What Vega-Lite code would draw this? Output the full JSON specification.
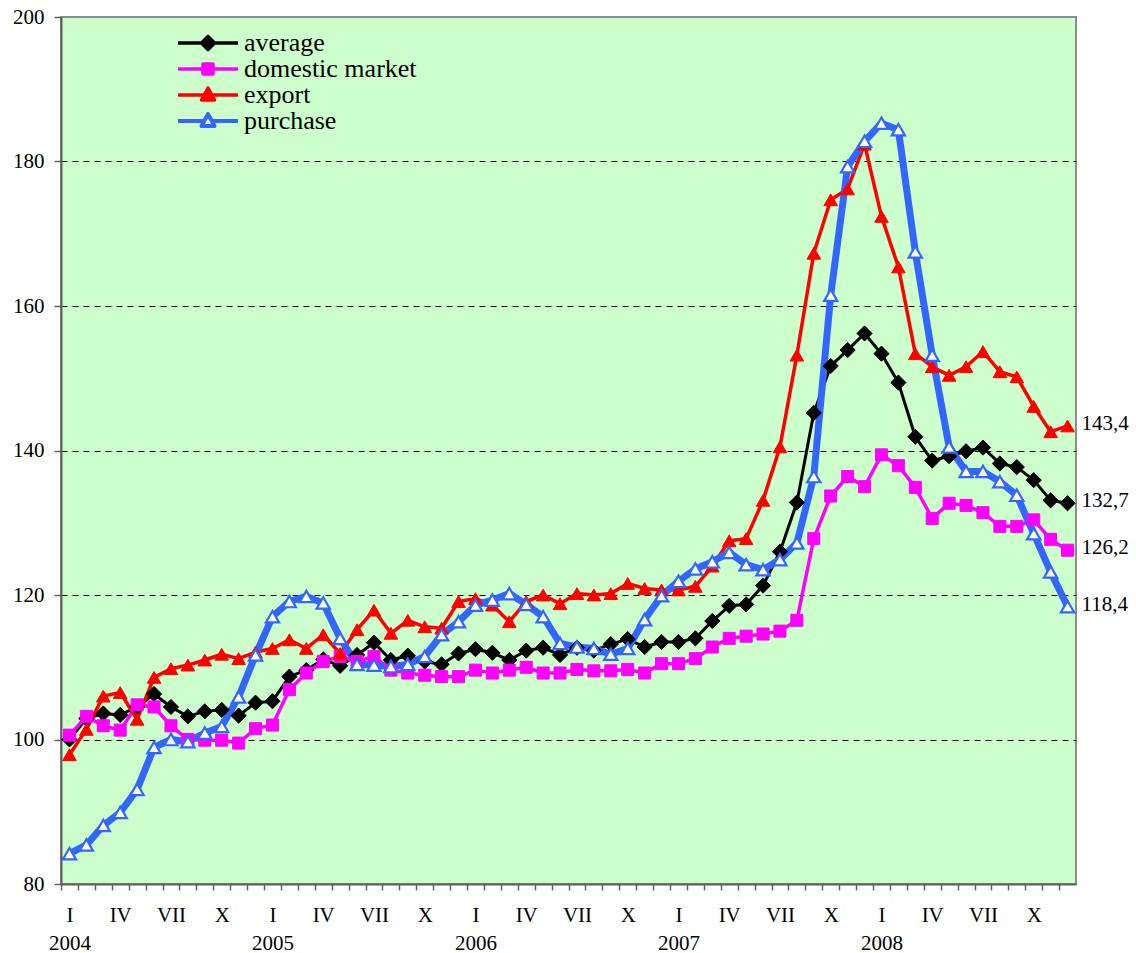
{
  "$schema": "https://vega.github.io/schema/vega-lite/v6.json",
  "autosize": {"type": "none"},
  "padding": {"left": 61, "top": 17, "right": 60, "bottom": 69},
  "width": 1015,
  "height": 867,
  "background": "white",
  "config": {
    "font": "Liberation Serif",
    "view": {"fill": "#CCFFCC", "stroke": "#8c8c8c", "strokeWidth": 2},
    "locale": {"number": {"decimal": ",", "thousands": " ", "grouping": [3], "currency": ["", ""]}},
    "axis": {"labelFont": "Liberation Serif", "labelFontSize": 21, "labelColor": "black", "domainColor": "#606060", "domainWidth": 2, "tickColor": "#606060", "tickWidth": 1.5, "title": null}
  },
  "data": {"values": [
    {"month":"2004-01","series":"average","value":100.0},{"month":"2004-02","series":"average","value":102.9},{"month":"2004-03","series":"average","value":103.6},{"month":"2004-04","series":"average","value":103.4},{"month":"2004-05","series":"average","value":104.5},{"month":"2004-06","series":"average","value":106.3},{"month":"2004-07","series":"average","value":104.5},{"month":"2004-08","series":"average","value":103.2},{"month":"2004-09","series":"average","value":103.9},{"month":"2004-10","series":"average","value":104.1},{"month":"2004-11","series":"average","value":103.3},{"month":"2004-12","series":"average","value":105.1},
    {"month":"2005-01","series":"average","value":105.3},{"month":"2005-02","series":"average","value":108.7},{"month":"2005-03","series":"average","value":109.6},{"month":"2005-04","series":"average","value":111.1},{"month":"2005-05","series":"average","value":110.2},{"month":"2005-06","series":"average","value":111.7},{"month":"2005-07","series":"average","value":113.4},{"month":"2005-08","series":"average","value":111.0},{"month":"2005-09","series":"average","value":111.6},{"month":"2005-10","series":"average","value":110.8},{"month":"2005-11","series":"average","value":110.4},{"month":"2005-12","series":"average","value":111.9},
    {"month":"2006-01","series":"average","value":112.5},{"month":"2006-02","series":"average","value":112.0},{"month":"2006-03","series":"average","value":111.0},{"month":"2006-04","series":"average","value":112.3},{"month":"2006-05","series":"average","value":112.7},{"month":"2006-06","series":"average","value":111.7},{"month":"2006-07","series":"average","value":112.7},{"month":"2006-08","series":"average","value":112.3},{"month":"2006-09","series":"average","value":113.2},{"month":"2006-10","series":"average","value":113.9},{"month":"2006-11","series":"average","value":112.8},{"month":"2006-12","series":"average","value":113.5},
    {"month":"2007-01","series":"average","value":113.5},{"month":"2007-02","series":"average","value":114.0},{"month":"2007-03","series":"average","value":116.4},{"month":"2007-04","series":"average","value":118.5},{"month":"2007-05","series":"average","value":118.7},{"month":"2007-06","series":"average","value":121.3},{"month":"2007-07","series":"average","value":126.0},{"month":"2007-08","series":"average","value":132.8},{"month":"2007-09","series":"average","value":145.2},{"month":"2007-10","series":"average","value":151.7},{"month":"2007-11","series":"average","value":153.9},{"month":"2007-12","series":"average","value":156.2},
    {"month":"2008-01","series":"average","value":153.4},{"month":"2008-02","series":"average","value":149.4},{"month":"2008-03","series":"average","value":141.9},{"month":"2008-04","series":"average","value":138.6},{"month":"2008-05","series":"average","value":139.2},{"month":"2008-06","series":"average","value":139.9},{"month":"2008-07","series":"average","value":140.4},{"month":"2008-08","series":"average","value":138.2},{"month":"2008-09","series":"average","value":137.7},{"month":"2008-10","series":"average","value":135.9},{"month":"2008-11","series":"average","value":133.1},{"month":"2008-12","series":"average","value":132.7},
    {"month":"2004-01","series":"domestic market","value":100.6},{"month":"2004-02","series":"domestic market","value":103.2},{"month":"2004-03","series":"domestic market","value":101.9},{"month":"2004-04","series":"domestic market","value":101.3},{"month":"2004-05","series":"domestic market","value":104.8},{"month":"2004-06","series":"domestic market","value":104.5},{"month":"2004-07","series":"domestic market","value":101.9},{"month":"2004-08","series":"domestic market","value":100.0},{"month":"2004-09","series":"domestic market","value":99.9},{"month":"2004-10","series":"domestic market","value":99.9},{"month":"2004-11","series":"domestic market","value":99.5},{"month":"2004-12","series":"domestic market","value":101.5},
    {"month":"2005-01","series":"domestic market","value":102.0},{"month":"2005-02","series":"domestic market","value":106.9},{"month":"2005-03","series":"domestic market","value":109.2},{"month":"2005-04","series":"domestic market","value":110.8},{"month":"2005-05","series":"domestic market","value":111.5},{"month":"2005-06","series":"domestic market","value":110.8},{"month":"2005-07","series":"domestic market","value":111.5},{"month":"2005-08","series":"domestic market","value":109.6},{"month":"2005-09","series":"domestic market","value":109.2},{"month":"2005-10","series":"domestic market","value":108.9},{"month":"2005-11","series":"domestic market","value":108.7},{"month":"2005-12","series":"domestic market","value":108.7},
    {"month":"2006-01","series":"domestic market","value":109.6},{"month":"2006-02","series":"domestic market","value":109.2},{"month":"2006-03","series":"domestic market","value":109.6},{"month":"2006-04","series":"domestic market","value":110.0},{"month":"2006-05","series":"domestic market","value":109.2},{"month":"2006-06","series":"domestic market","value":109.2},{"month":"2006-07","series":"domestic market","value":109.7},{"month":"2006-08","series":"domestic market","value":109.5},{"month":"2006-09","series":"domestic market","value":109.5},{"month":"2006-10","series":"domestic market","value":109.7},{"month":"2006-11","series":"domestic market","value":109.2},{"month":"2006-12","series":"domestic market","value":110.5},
    {"month":"2007-01","series":"domestic market","value":110.5},{"month":"2007-02","series":"domestic market","value":111.2},{"month":"2007-03","series":"domestic market","value":112.8},{"month":"2007-04","series":"domestic market","value":114.0},{"month":"2007-05","series":"domestic market","value":114.3},{"month":"2007-06","series":"domestic market","value":114.6},{"month":"2007-07","series":"domestic market","value":115.0},{"month":"2007-08","series":"domestic market","value":116.5},{"month":"2007-09","series":"domestic market","value":127.8},{"month":"2007-10","series":"domestic market","value":133.7},{"month":"2007-11","series":"domestic market","value":136.4},{"month":"2007-12","series":"domestic market","value":135.0},
    {"month":"2008-01","series":"domestic market","value":139.4},{"month":"2008-02","series":"domestic market","value":137.9},{"month":"2008-03","series":"domestic market","value":134.9},{"month":"2008-04","series":"domestic market","value":130.6},{"month":"2008-05","series":"domestic market","value":132.7},{"month":"2008-06","series":"domestic market","value":132.4},{"month":"2008-07","series":"domestic market","value":131.4},{"month":"2008-08","series":"domestic market","value":129.5},{"month":"2008-09","series":"domestic market","value":129.5},{"month":"2008-10","series":"domestic market","value":130.4},{"month":"2008-11","series":"domestic market","value":127.7},{"month":"2008-12","series":"domestic market","value":126.2},
    {"month":"2004-01","series":"export","value":97.9},{"month":"2004-02","series":"export","value":101.4},{"month":"2004-03","series":"export","value":106.0},{"month":"2004-04","series":"export","value":106.5},{"month":"2004-05","series":"export","value":102.8},{"month":"2004-06","series":"export","value":108.6},{"month":"2004-07","series":"export","value":109.8},{"month":"2004-08","series":"export","value":110.3},{"month":"2004-09","series":"export","value":111.0},{"month":"2004-10","series":"export","value":111.8},{"month":"2004-11","series":"export","value":111.2},{"month":"2004-12","series":"export","value":112.1},
    {"month":"2005-01","series":"export","value":112.6},{"month":"2005-02","series":"export","value":113.8},{"month":"2005-03","series":"export","value":112.6},{"month":"2005-04","series":"export","value":114.5},{"month":"2005-05","series":"export","value":111.9},{"month":"2005-06","series":"export","value":115.2},{"month":"2005-07","series":"export","value":117.9},{"month":"2005-08","series":"export","value":114.7},{"month":"2005-09","series":"export","value":116.5},{"month":"2005-10","series":"export","value":115.6},{"month":"2005-11","series":"export","value":115.4},{"month":"2005-12","series":"export","value":119.1},
    {"month":"2006-01","series":"export","value":119.5},{"month":"2006-02","series":"export","value":118.6},{"month":"2006-03","series":"export","value":116.3},{"month":"2006-04","series":"export","value":119.1},{"month":"2006-05","series":"export","value":120.0},{"month":"2006-06","series":"export","value":118.8},{"month":"2006-07","series":"export","value":120.2},{"month":"2006-08","series":"export","value":120.0},{"month":"2006-09","series":"export","value":120.2},{"month":"2006-10","series":"export","value":121.6},{"month":"2006-11","series":"export","value":120.9},{"month":"2006-12","series":"export","value":120.7},
    {"month":"2007-01","series":"export","value":120.7},{"month":"2007-02","series":"export","value":121.2},{"month":"2007-03","series":"export","value":124.0},{"month":"2007-04","series":"export","value":127.5},{"month":"2007-05","series":"export","value":127.8},{"month":"2007-06","series":"export","value":133.1},{"month":"2007-07","series":"export","value":140.5},{"month":"2007-08","series":"export","value":153.2},{"month":"2007-09","series":"export","value":167.3},{"month":"2007-10","series":"export","value":174.7},{"month":"2007-11","series":"export","value":176.2},{"month":"2007-12","series":"export","value":182.4},
    {"month":"2008-01","series":"export","value":172.4},{"month":"2008-02","series":"export","value":165.4},{"month":"2008-03","series":"export","value":153.4},{"month":"2008-04","series":"export","value":151.6},{"month":"2008-05","series":"export","value":150.4},{"month":"2008-06","series":"export","value":151.6},{"month":"2008-07","series":"export","value":153.7},{"month":"2008-08","series":"export","value":150.9},{"month":"2008-09","series":"export","value":150.2},{"month":"2008-10","series":"export","value":146.1},{"month":"2008-11","series":"export","value":142.6},{"month":"2008-12","series":"export","value":143.4},
    {"month":"2004-01","series":"purchase","value":84.2},{"month":"2004-02","series":"purchase","value":85.4},{"month":"2004-03","series":"purchase","value":88.1},{"month":"2004-04","series":"purchase","value":89.9},{"month":"2004-05","series":"purchase","value":93.1},{"month":"2004-06","series":"purchase","value":98.9},{"month":"2004-07","series":"purchase","value":100.0},{"month":"2004-08","series":"purchase","value":99.7},{"month":"2004-09","series":"purchase","value":100.9},{"month":"2004-10","series":"purchase","value":101.8},{"month":"2004-11","series":"purchase","value":105.9},{"month":"2004-12","series":"purchase","value":111.7},
    {"month":"2005-01","series":"purchase","value":117.0},{"month":"2005-02","series":"purchase","value":119.1},{"month":"2005-03","series":"purchase","value":119.8},{"month":"2005-04","series":"purchase","value":118.9},{"month":"2005-05","series":"purchase","value":114.0},{"month":"2005-06","series":"purchase","value":110.4},{"month":"2005-07","series":"purchase","value":110.3},{"month":"2005-08","series":"purchase","value":110.1},{"month":"2005-09","series":"purchase","value":110.4},{"month":"2005-10","series":"purchase","value":111.5},{"month":"2005-11","series":"purchase","value":114.5},{"month":"2005-12","series":"purchase","value":116.3},
    {"month":"2006-01","series":"purchase","value":118.6},{"month":"2006-02","series":"purchase","value":119.3},{"month":"2006-03","series":"purchase","value":120.2},{"month":"2006-04","series":"purchase","value":118.7},{"month":"2006-05","series":"purchase","value":117.0},{"month":"2006-06","series":"purchase","value":113.3},{"month":"2006-07","series":"purchase","value":112.8},{"month":"2006-08","series":"purchase","value":112.6},{"month":"2006-09","series":"purchase","value":111.8},{"month":"2006-10","series":"purchase","value":112.6},{"month":"2006-11","series":"purchase","value":116.6},{"month":"2006-12","series":"purchase","value":119.9},
    {"month":"2007-01","series":"purchase","value":121.9},{"month":"2007-02","series":"purchase","value":123.6},{"month":"2007-03","series":"purchase","value":124.6},{"month":"2007-04","series":"purchase","value":125.9},{"month":"2007-05","series":"purchase","value":124.2},{"month":"2007-06","series":"purchase","value":123.5},{"month":"2007-07","series":"purchase","value":124.9},{"month":"2007-08","series":"purchase","value":127.2},{"month":"2007-09","series":"purchase","value":136.4},{"month":"2007-10","series":"purchase","value":161.5},{"month":"2007-11","series":"purchase","value":179.3},{"month":"2007-12","series":"purchase","value":182.8},
    {"month":"2008-01","series":"purchase","value":185.3},{"month":"2008-02","series":"purchase","value":184.4},{"month":"2008-03","series":"purchase","value":167.5},{"month":"2008-04","series":"purchase","value":153.2},{"month":"2008-05","series":"purchase","value":140.5},{"month":"2008-06","series":"purchase","value":137.1},{"month":"2008-07","series":"purchase","value":137.1},{"month":"2008-08","series":"purchase","value":135.7},{"month":"2008-09","series":"purchase","value":133.8},{"month":"2008-10","series":"purchase","value":128.5},{"month":"2008-11","series":"purchase","value":123.2},{"month":"2008-12","series":"purchase","value":118.4}
  ]},
  "encoding": {
    "x": {
      "field": "month", "type": "ordinal",
      "scale": {"type": "band", "paddingInner": 0, "paddingOuter": 0},
      "axis": {
        "tickSize": 6, "tickOffset": -8.458, "labelOffset": 8.458, "labelAngle": 0, "labelOverlap": false,
        "labelPadding": 14, "labelBaseline": "top", "labelAlign": "center", "labelLineHeight": 28,
        "labelExpr": "!datum.label ? '' : slice(datum.label,5)==='01' ? ['I', slice(datum.label,0,4)] : slice(datum.label,5)==='04' ? 'IV' : slice(datum.label,5)==='07' ? 'VII' : slice(datum.label,5)==='10' ? 'X' : ''"
      }
    },
    "y": {
      "field": "value", "type": "quantitative",
      "scale": {"domain": [80, 200], "nice": false, "zero": false},
      "axis": {
        "values": [80, 100, 120, 140, 160, 180, 200], "tickSize": 7, "labelPadding": 10,
        "grid": true, "gridColor": "black", "gridDash": [6, 5], "gridWidth": 1,
        "gridOpacity": {"condition": {"test": "datum.value === 80 || datum.value === 200", "value": 0}, "value": 1}
      }
    }
  },
  "layer": [
    {
      "transform": [{"filter": {"field": "series", "equal": "average"}}],
      "mark": {"type": "line", "strokeWidth": 3, "strokeJoin": "round"},
      "encoding": {
        "color": {"field": "series", "type": "nominal",
          "scale": {"domain": ["average", "domestic market", "export", "purchase"], "range": ["#000000", "#FF00FF", "#FF0000", "#3366FF"]},
          "legend": {
            "title": null, "orient": "top-left", "offset": 13, "padding": 0,
            "symbolSize": 400, "symbolOffset": 121, "labelOffset": 23, "symbolStrokeWidth": 3.5,
            "labelFontSize": 26, "labelFont": "Liberation Serif", "labelColor": "black", "labelLimit": 400,
            "rowPadding": 0, "symbolOpacity": 1,
            "encode": {"symbols": {"update": {
              "shape": {"signal": "datum.value === 'average' ? 'M-3,0H-0.6M0.6,0H3M0,-0.65L0.65,0L0,0.65L-0.65,0Z' : datum.value === 'domestic market' ? 'M-3,0H-0.5M0.5,0H3M-0.5,-0.5H0.5V0.5H-0.5Z' : datum.value === 'export' ? 'M-3,0H-0.4M0.4,0H3M0,-0.7L0.65,0.5H-0.65Z' : 'M-3,0H-0.4M0.4,0H3M0,-0.7L0.65,0.5H-0.65Z'"},
              "fill": {"signal": "datum.value === 'purchase' ? '#FFFFFF' : datum.value === 'average' ? '#000000' : datum.value === 'export' ? '#FF0000' : '#FF00FF'"},
              "strokeWidth": {"signal": "datum.value === 'purchase' ? 4 : 3.5"},
              "strokeJoin": {"value": "round"}
            }}}
          }
        }
      }
    },
    {
      "transform": [{"filter": {"field": "series", "equal": "domestic market"}}],
      "mark": {"type": "line", "color": "#FF00FF", "strokeWidth": 3.5, "strokeJoin": "round"},
      "encoding": {}
    },
    {
      "transform": [{"filter": {"field": "series", "equal": "export"}}],
      "mark": {"type": "line", "color": "#FF0000", "strokeWidth": 3.5, "strokeJoin": "round"},
      "encoding": {}
    },
    {
      "transform": [{"filter": {"field": "series", "equal": "purchase"}}],
      "mark": {"type": "line", "color": "#3366FF", "strokeWidth": 7, "strokeJoin": "round"},
      "encoding": {}
    },
    {
      "transform": [{"filter": {"field": "series", "equal": "average"}}],
      "mark": {"type": "point", "shape": "diamond", "filled": true, "fill": "#000000", "stroke": "#000000", "strokeWidth": 1, "size": 230, "opacity": 1},
      "encoding": {}
    },
    {
      "transform": [{"filter": {"field": "series", "equal": "domestic market"}}],
      "mark": {"type": "point", "shape": "square", "filled": true, "fill": "#FF00FF", "stroke": "#FF00FF", "strokeWidth": 1, "size": 145, "opacity": 1},
      "encoding": {}
    },
    {
      "transform": [{"filter": {"field": "series", "equal": "export"}}],
      "mark": {"type": "point", "shape": "triangle-up", "filled": true, "fill": "#FF0000", "stroke": "#FF0000", "strokeWidth": 1, "size": 185, "opacity": 1},
      "encoding": {}
    },
    {
      "transform": [{"filter": {"field": "series", "equal": "purchase"}}],
      "mark": {"type": "point", "shape": "triangle-up", "filled": true, "fill": "#FFFFFF", "stroke": "#3366FF", "strokeWidth": 2.2, "size": 175, "opacity": 1},
      "encoding": {}
    },
    {
      "transform": [{"filter": {"field": "month", "equal": "2008-12"}}],
      "mark": {"type": "text", "align": "left", "baseline": "middle", "dx": 14, "dy": -2, "fontSize": 21, "font": "Liberation Serif", "color": "black"},
      "encoding": {"text": {"field": "value", "type": "quantitative", "format": ".1f"}}
    }
  ]
}
